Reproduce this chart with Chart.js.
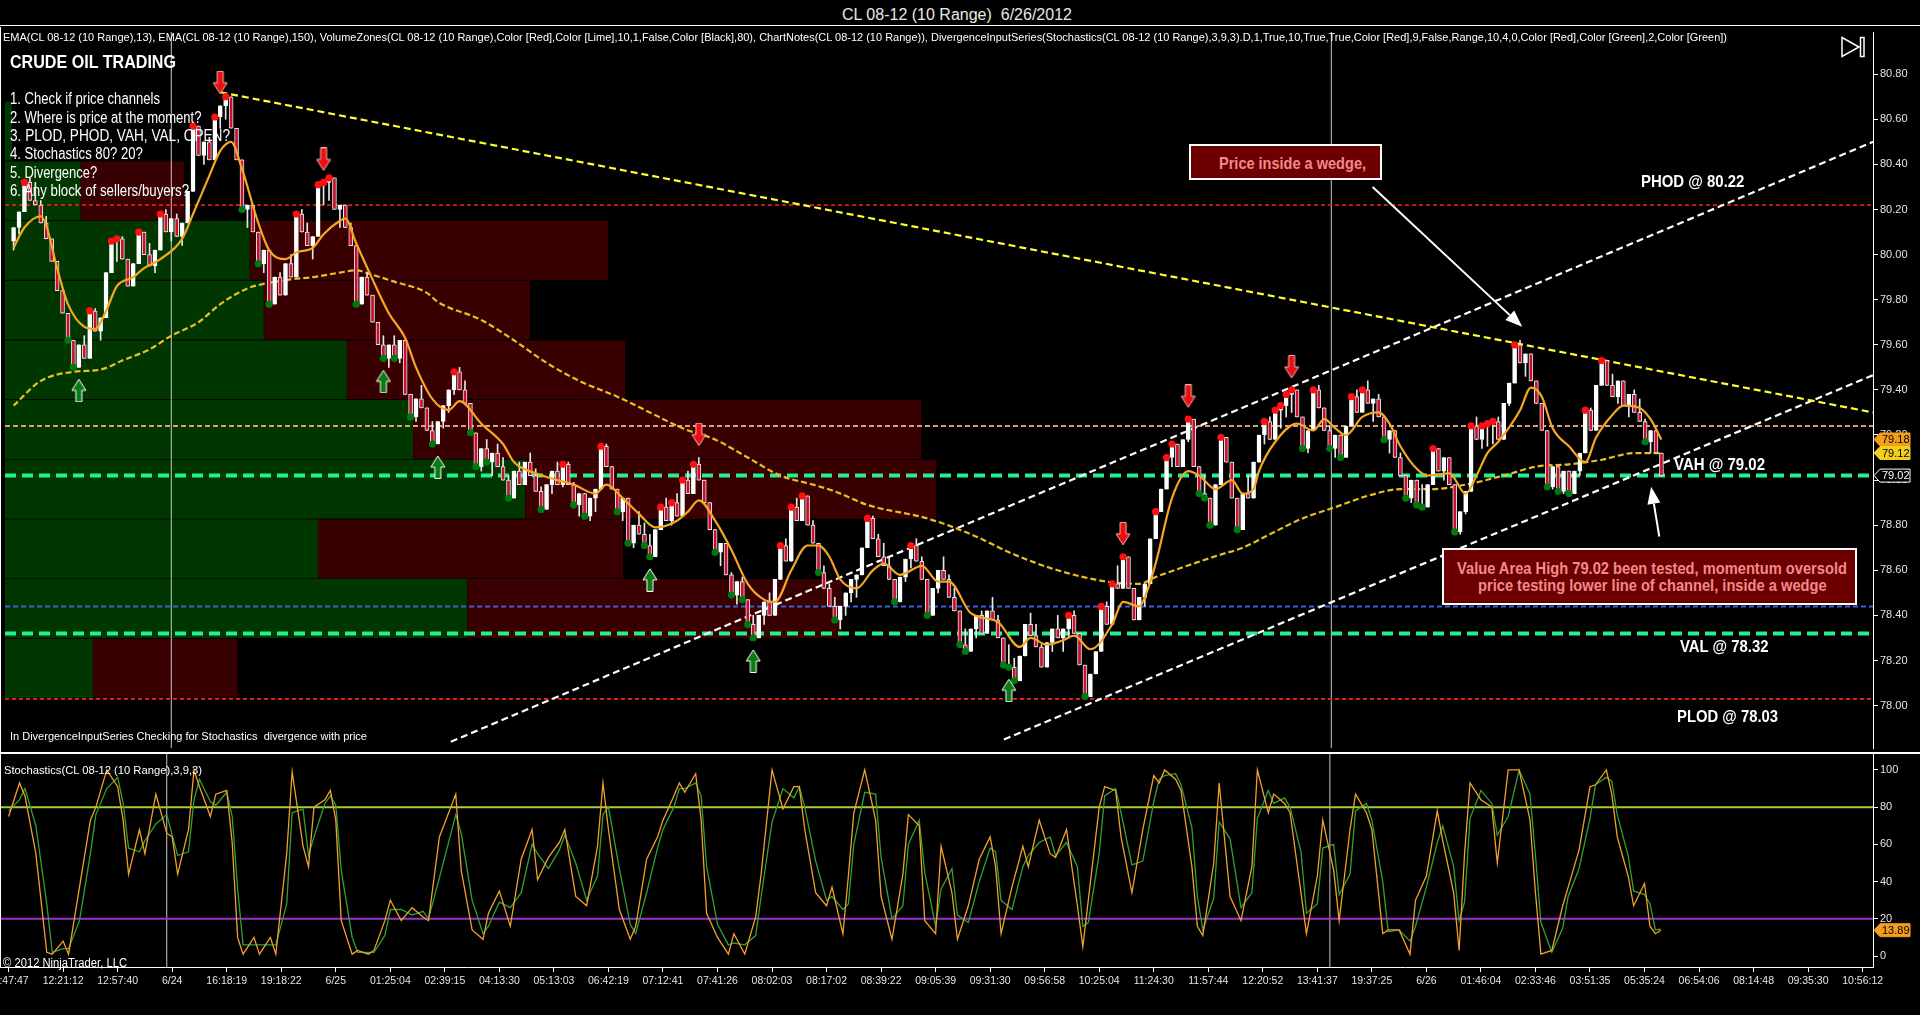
<!DOCTYPE html>
<html>
<head>
<meta charset="utf-8">
<title>CL 08-12 (10 Range) 6/26/2012</title>
<script src="https://cdn.jsdelivr.net/npm/chart.js@4.4.1/dist/chart.umd.min.js"></script>
<style>
  html, body { margin: 0; padding: 0; background: #000; }
  body { position: relative; width: 1920px; height: 1015px; overflow: hidden; font-family: 'Liberation Sans', Arial, sans-serif; color: #fff; }
  .box { position: absolute; left: 0; width: 1920px; }
  #priceBox { top: 27px; height: 726px; }
  #stochBox { top: 753px; height: 262px; }
  #topRule { position: absolute; left: 0; top: 25px; width: 1920px; height: 1px; background: #fff; }
  .t { position: absolute; display: inline-block; white-space: pre; transform-origin: 0 50%; z-index: 5; pointer-events: none; }
  .b { font-weight: bold; }
  .note { position: absolute; box-sizing: border-box; background: #6c0000; border: 2px solid #fff; z-index: 4; }
  .nt { color: #f28a8a; font-weight: bold; font-size: 16.5px; line-height: 19px; }
</style>
</head>
<body>
<div id="topRule"></div>
<div class="box" id="priceBox"><canvas id="priceChart"></canvas></div>
<div class="box" id="stochBox"><canvas id="stochChart"></canvas></div>

<span class="t" data-w="230" style="left:842px;top:5px;font-size:16px;line-height:19px;color:#e8e8e8">CL 08-12 (10 Range)  6/26/2012</span>
<span class="t" data-w="1724" style="left:3px;top:31px;font-size:11px;line-height:13px">EMA(CL 08-12 (10 Range),13), EMA(CL 08-12 (10 Range),150), VolumeZones(CL 08-12 (10 Range),Color [Red],Color [Lime],10,1,False,Color [Black],80), ChartNotes(CL 08-12 (10 Range)), DivergenceInputSeries(Stochastics(CL 08-12 (10 Range),3,9,3).D,1,True,10,True,True,Color [Red],9,False,Range,10,4,0,Color [Red],Color [Green],2,Color [Green])</span>
<span class="t b" data-w="166" style="left:9.6px;top:51.7px;font-size:18px;line-height:20px">CRUDE OIL TRADING</span>
<span class="t" data-w="150" style="left:9.6px;top:90px;font-size:16px;line-height:18px">1. Check if price channels</span>
<span class="t" data-w="191.4" style="left:9.6px;top:108.7px;font-size:16px;line-height:18px">2. Where is price at the moment?</span>
<span class="t" data-w="220" style="left:9.6px;top:127px;font-size:16px;line-height:18px">3. PLOD, PHOD, VAH, VAL, OPEN?</span>
<span class="t" data-w="132.8" style="left:9.6px;top:145.3px;font-size:16px;line-height:18px">4. Stochastics 80? 20?</span>
<span class="t" data-w="87.2" style="left:9.6px;top:163.7px;font-size:16px;line-height:18px">5. Divergence?</span>
<span class="t" data-w="179.1" style="left:9.6px;top:181.7px;font-size:16px;line-height:18px">6. Any block of sellers/buyers?</span>
<span class="t" data-w="357" style="left:9.8px;top:730.2px;font-size:11px;line-height:13px">In DivergenceInputSeries Checking for Stochastics  divergence with price</span>
<span class="t" data-w="198" style="left:3.7px;top:763.5px;font-size:11px;line-height:13px">Stochastics(CL 08-12 (10 Range),3,9,3)</span>
<span class="t" data-w="124" style="left:3px;top:956.3px;font-size:12px;line-height:14px">© 2012 NinjaTrader, LLC</span>

<span class="t b" data-w="103.4" style="left:1640.6px;top:171.8px;font-size:17px;line-height:19px">PHOD @ 80.22</span>
<span class="t b" data-w="91" style="left:1673.6px;top:454.5px;font-size:17px;line-height:19px">VAH @ 79.02</span>
<span class="t b" data-w="88.5" style="left:1680px;top:636.5px;font-size:17px;line-height:19px">VAL @ 78.32</span>
<span class="t b" data-w="101" style="left:1677px;top:706.8px;font-size:17px;line-height:19px">PLOD @ 78.03</span>

<div class="note" style="left:1189px;top:144px;width:193px;height:36px"></div>
<span class="t nt" data-w="147" style="left:1218.8px;top:154px">Price inside a wedge,</span>
<div class="note" style="left:1442px;top:548px;width:415px;height:57px"></div>
<span class="t nt" data-w="390" style="left:1457px;top:558.5px">Value Area High 79.02 been tested, momentum oversold</span>
<span class="t nt" data-w="348.6" style="left:1478.4px;top:575.9px">price testing lower line of channel, inside a wedge</span>

<script>
// ---- data ----
const timeLabels = ['11:47:47', '12:21:12', '12:57:40', '6/24', '16:18:19', '19:18:22', '6/25', '01:25:04',
  '02:39:15', '04:13:30', '05:13:03', '06:42:19', '07:12:41', '07:41:26', '08:02:03', '08:17:02', '08:39:22',
  '09:05:39', '09:31:30', '09:56:58', '10:25:04', '11:24:30', '11:57:44', '12:20:52', '13:41:37', '19:37:25',
  '6/26', '01:46:04', '02:33:46', '03:51:35', '05:35:24', '06:54:06', '08:14:48', '09:35:30', '10:56:12'];
const TICK_EVERY = 10; // bars between time labels

const priceTicks = [78.0, 78.2, 78.4, 78.6, 78.8, 79.0, 79.2, 79.4, 79.6, 79.8, 80.0, 80.2, 80.4, 80.6, 80.8];
const stochTicks = [0, 20, 40, 60, 80, 100];

// 10 range bars: close of every bar
const RANGE = 0.10;
const FIRST_OPEN = 80.06;
const closes = [
  80.12, 80.19, 80.32, 80.24, 80.22, 80.14, 80.07, 79.97, 79.84, 79.74,
  79.62, 79.50, 79.60, 79.54, 79.75, 79.66, 79.72, 79.92, 80.06, 80.07,
  79.98, 79.86, 79.96, 80.10, 80.00, 79.95, 80.02, 80.18, 80.10, 80.16,
  80.08, 80.14, 80.28, 80.57, 80.44, 80.50, 80.42, 80.61, 80.66, 80.70,
  80.56, 80.42, 80.20, 80.22, 80.10, 79.96, 80.02, 79.78, 79.90, 79.82,
  79.96, 79.90, 80.18, 80.10, 80.04, 80.08, 80.31, 80.32, 80.34, 80.20,
  80.22, 80.12, 80.04, 79.78, 79.90, 79.82, 79.70, 79.60, 79.54, 79.60,
  79.54, 79.62, 79.38, 79.28, 79.36, 79.32, 79.22, 79.16, 79.26, 79.33,
  79.40, 79.48, 79.40, 79.34, 79.21, 79.06, 79.14, 79.08, 79.12, 79.06,
  79.00, 78.92, 79.04, 78.98, 79.08, 79.02, 78.95, 78.87, 78.98, 79.04,
  78.98, 79.07, 78.98, 78.89, 78.94, 78.84, 78.92, 78.96, 79.15, 79.06,
  78.96, 78.86, 78.92, 78.72, 78.80, 78.76, 78.71, 78.66, 78.78, 78.88,
  78.82, 78.90, 78.84, 79.00, 78.94, 79.07, 79.00, 78.90, 78.78, 78.68,
  78.72, 78.58, 78.49, 78.55, 78.47, 78.36, 78.30, 78.40, 78.46, 78.40,
  78.56, 78.71, 78.64, 78.88, 78.82, 78.93, 78.80, 78.72, 78.59, 78.52,
  78.44, 78.38, 78.44, 78.50, 78.56, 78.58, 78.70, 78.83, 78.74, 78.66,
  78.62, 78.56, 78.46, 78.57, 78.65, 78.71, 78.64, 78.56, 78.40, 78.52,
  78.60, 78.56, 78.48, 78.42, 78.27, 78.24, 78.34, 78.40, 78.32, 78.42,
  78.38, 78.30, 78.18, 78.17, 78.11, 78.22, 78.36, 78.31, 78.26, 78.17,
  78.28, 78.34, 78.30, 78.34, 78.40, 78.32, 78.18, 78.04, 78.14, 78.24,
  78.44, 78.36, 78.54, 78.52, 78.66, 78.52, 78.38, 78.48, 78.54, 78.74,
  78.86, 78.96, 79.10, 79.16, 79.06, 79.18, 79.27, 79.06, 78.94, 78.92,
  78.80, 78.98, 79.19, 79.08, 78.92, 78.78, 78.94, 78.92, 79.08, 79.20,
  79.26, 79.18, 79.31, 79.33, 79.38, 79.40, 79.28, 79.14, 79.22, 79.40,
  79.32, 79.22, 79.14, 79.20, 79.10, 79.24, 79.37, 79.30, 79.40, 79.34,
  79.36, 79.28, 79.18, 79.22, 79.10, 79.02, 78.92, 79.00, 78.89, 78.88,
  78.98, 79.14, 79.04, 79.10, 78.98, 78.77, 78.86, 78.95, 79.24, 79.18,
  79.24, 79.25, 79.26, 79.18, 79.34, 79.43, 79.60, 79.52, 79.56, 79.44,
  79.34, 79.22, 78.97, 79.06, 78.95, 79.04, 78.94, 79.04, 79.12, 79.31,
  79.22, 79.42, 79.53, 79.42, 79.37, 79.44, 79.33, 79.38, 79.30, 79.26,
  79.17, 79.22, 79.12, 79.02
];

// EMA(13) and EMA(150) (bar, value)
const ema13Bars = [0, 2, 5, 6, 8, 10, 13, 15, 17, 19, 22, 24, 27, 31, 33, 36, 38, 40, 42, 45, 47, 50, 52, 55, 57,
  60, 61, 63, 66, 69, 72, 74, 77, 80, 82, 86, 90, 92, 96, 100, 103, 107, 109, 112, 115, 118, 122, 124, 126, 129,
  132, 135, 138, 140, 143, 146, 148, 150, 152, 155, 158, 160, 163, 167, 170, 172, 176, 181, 185, 187, 190, 193,
  195, 198, 202, 204, 207, 208, 210, 213, 216, 218, 221, 224, 226, 228, 229, 232, 236, 239, 241, 243, 245, 248,
  251, 253, 255, 258, 260, 264, 267, 269, 271, 273, 277, 279, 281, 283, 286, 289, 291, 294, 296, 299, 301, 303];
const ema13 = [80.03, 80.12, 80.17, 80.13, 79.94, 79.78, 79.68, 79.67, 79.75, 79.86, 79.90, 79.94, 79.98, 80.07,
  80.18, 80.35, 80.46, 80.50, 80.38, 80.14, 80.02, 79.98, 80.01, 80.03, 80.09, 80.15, 80.16, 80.05, 79.89, 79.74,
  79.63, 79.50, 79.36, 79.31, 79.35, 79.25, 79.16, 79.08, 79.03, 79.00, 78.98, 78.94, 78.98, 78.92, 78.85, 78.79,
  78.82, 78.86, 78.91, 78.82, 78.69, 78.54, 78.47, 78.46, 78.60, 78.71, 78.71, 78.66, 78.56, 78.52, 78.60, 78.63,
  78.58, 78.62, 78.55, 78.55, 78.41, 78.37, 78.26, 78.30, 78.27, 78.29, 78.31, 78.25, 78.36, 78.46, 78.44, 78.48,
  78.63, 78.92, 79.04, 79.02, 78.96, 79.00, 78.94, 78.96, 79.04, 79.17, 79.25, 79.22, 79.27, 79.23, 79.20, 79.28,
  79.30, 79.25, 79.15, 79.05, 79.02, 79.03, 78.94, 79.02, 79.12, 79.17, 79.31, 79.41, 79.37, 79.23, 79.15, 79.08,
  79.19, 79.29, 79.33, 79.32, 79.27, 79.18];
const ema150Bars = [0, 5, 11, 16, 20, 25, 29, 34, 38, 43, 46, 51, 55, 60, 63, 66, 70, 76, 78, 86, 92, 98, 104, 111,
  117, 123, 129, 135, 141, 147, 151, 157, 168, 176, 184, 192, 201, 207, 210, 217, 222, 226, 231, 237, 243, 249,
  255, 261, 267, 274, 280, 286, 292, 298, 303];
const ema150 = [79.33, 79.44, 79.48, 79.49, 79.53, 79.58, 79.64, 79.70, 79.78, 79.85, 79.87, 79.89, 79.90, 79.92,
  79.93, 79.91, 79.88, 79.83, 79.79, 79.71, 79.62, 79.52, 79.44, 79.37, 79.30, 79.23, 79.18, 79.10, 79.02, 78.98,
  78.95, 78.89, 78.83, 78.76, 78.67, 78.60, 78.55, 78.54, 78.57, 78.63, 78.67, 78.70, 78.76, 78.83, 78.88, 78.93,
  78.96, 78.96, 78.98, 79.02, 79.06, 79.07, 79.09, 79.12, 79.12];

// swing points and divergence signals (bar numbers)
const swingHighBars = [2, 14, 18, 19, 23, 27, 33, 37, 39, 52, 56, 57, 58, 81, 101, 108, 119, 121, 123, 125, 141,
  143, 145, 157, 165, 194, 200, 202, 204, 210, 212, 213, 216, 222, 230, 232, 233, 234, 235, 239, 246, 248, 261,
  268, 270, 271, 272, 276, 289, 292];
const swingLowBars = [10, 11, 42, 45, 47, 63, 68, 70, 73, 77, 84, 85, 87, 91, 97, 103, 105, 111, 113, 116, 117,
  129, 132, 134, 135, 136, 148, 151, 162, 168, 174, 175, 182, 183, 184, 197, 218, 219, 220, 225, 237, 242, 244,
  252, 256, 258, 259, 265, 282, 284, 286, 300];
const bearDivergenceBars = [38, 57, 126, 204, 216, 235];
const bullDivergenceBars = [12, 68, 78, 117, 136, 183];

// volume zones: centre price, buy and sell volume
const zonePrices = [78.167, 78.432, 78.696, 78.961, 79.226, 79.490, 79.755, 80.020, 80.284, 80.549];
const zoneBuyVolume = [940, 4950, 3350, 5570, 4370, 3660, 2770, 2620, 810, 75];
const zoneSellVolume = [1550, 4010, 3270, 4400, 5440, 2980, 2850, 3840, 1110, 0];

// horizontal levels: PHOD, open, VAH, blue, VAL, PLOD
const levelPrices = [80.22, 79.24, 79.02, 78.44, 78.32, 78.03];

// drawn lines (bar, price)
const wedgeTop = [[38, 80.72], [341.9, 79.30]];
const channelTop = [[80.4, 77.84], [341.9, 80.50]];
const channelBottom = [[182.1, 77.85], [341.9, 79.465]];
const sessionBreaks = [29, 242.3];
const noteArrows = [
  { from: [249.9, 80.30], to: [277.4, 79.68] },
  { from: [302.6, 78.75], to: [301.1, 78.97] }
];

// stochastics(3,9,3)
const stochBars = [0, 2, 3, 5, 7, 8, 10, 11, 13, 15, 16, 18, 20, 21, 22, 24, 25, 27, 29, 30, 31, 33, 34, 35, 37, 38,
  40, 41, 42, 43, 45, 46, 48, 49, 51, 52, 54, 55, 56, 58, 59, 60, 61, 63, 64, 66, 67, 69, 70, 72, 74, 76, 77, 79,
  82, 83, 85, 87, 88, 90, 92, 94, 96, 97, 99, 101, 102, 104, 106, 108, 109, 110, 112, 114, 115, 117, 119, 120,
  122, 123, 124, 126, 127, 128, 130, 132, 133, 135, 137, 138, 140, 142, 144, 145, 146, 148, 150, 151, 153, 154,
  155, 157, 159, 160, 162, 164, 165, 167, 168, 170, 171, 173, 174, 176, 178, 180, 181, 182, 184, 186, 187, 189,
  191, 192, 194, 196, 197, 198, 200, 201, 203, 204, 206, 208, 210, 211, 212, 214, 215, 217, 218, 219, 221, 222,
  224, 226, 228, 229, 231, 232, 234, 235, 237, 238, 240, 241, 243, 244, 246, 247, 249, 250, 252, 253, 255, 257,
  258, 260, 262, 263, 265, 266, 267, 268, 270, 272, 273, 275, 277, 279, 280, 281, 283, 285, 286, 288, 290, 291,
  293, 294, 295, 297, 298, 300, 301, 302, 303];
const stochK = [75, 93, 86, 55, 2, 1, 8, 1, 37, 73, 80, 100, 91, 73, 44, 68, 55, 87, 66, 64,
  44, 68, 100, 91, 75, 87, 89, 61, 10, 1, 10, 1, 10, 1, 55, 99, 59, 48, 80, 84,
  89, 73, 19, 1, 3, 1, 3, 19, 30, 19, 26, 21, 19, 64, 87, 46, 14, 9, 23, 35,
  16, 52, 68, 41, 53, 61, 68, 32, 27, 59, 93, 68, 25, 9, 16, 52, 64, 73, 86, 93,
  88, 98, 73, 23, 10, 1, 12, 1, 21, 44, 100, 79, 91, 91, 68, 34, 27, 37, 12, 43,
  77, 100, 73, 32, 9, 44, 76, 70, 19, 12, 59, 34, 9, 27, 52, 64, 48, 12, 37, 59,
  48, 73, 55, 53, 68, 27, 5, 30, 80, 91, 89, 64, 34, 68, 97, 93, 100, 95, 89, 48,
  16, 11, 50, 93, 32, 19, 48, 100, 77, 87, 82, 77, 34, 12, 43, 73, 46, 19, 68, 87,
  77, 68, 12, 14, 14, 1, 30, 43, 78, 62, 34, 3, 55, 93, 84, 80, 50, 100, 100, 73,
  34, 1, 3, 27, 37, 57, 91, 92, 100, 87, 64, 43, 27, 39, 16, 12, 13.89];
const stochD = [78, 84, 90, 70, 28, 2, 4, 4, 19, 55, 76, 90, 96, 82, 58, 56, 62, 71, 76, 65,
  54, 56, 84, 95, 83, 81, 88, 75, 36, 6, 6, 6, 6, 6, 28, 77, 79, 54, 64, 82,
  86, 81, 46, 10, 2, 2, 2, 11, 25, 25, 22, 24, 20, 42, 76, 66, 30, 12, 16, 29,
  26, 34, 60, 55, 47, 57, 65, 50, 30, 43, 76, 80, 47, 17, 12, 34, 58, 68, 80, 90,
  90, 93, 86, 48, 17, 6, 7, 6, 11, 32, 72, 90, 85, 91, 80, 51, 30, 32, 25, 28,
  60, 88, 87, 53, 20, 27, 60, 73, 45, 16, 36, 47, 22, 18, 40, 58, 56, 30, 25, 48,
  54, 61, 64, 54, 61, 48, 16, 18, 55, 86, 90, 77, 49, 51, 83, 95, 97, 98, 92, 69,
  32, 14, 31, 72, 63, 26, 34, 74, 89, 82, 85, 80, 56, 23, 28, 58, 60, 33, 44, 78,
  82, 73, 40, 13, 14, 8, 16, 37, 61, 70, 48, 19, 29, 74, 89, 82, 65, 75, 100, 87,
  54, 18, 2, 15, 32, 47, 74, 92, 96, 94, 76, 54, 35, 33, 28, 14, 14.5];
const stochLevels = [80, 20];

// ---- axis ranges ----
const X_MIN = -1.577, X_MAX = 341.9;
const PRICE_MIN = 77.812, PRICE_MAX = 80.987;
const STOCH_MIN = -5.9, STOCH_MAX = 109.1;
const VOL_AXIS_MAX = 20000;

// ---- text fitting (condensed chart font) ----
document.querySelectorAll('.t[data-w]').forEach(el => {
  const w = el.getBoundingClientRect().width;
  if (w > 0) el.style.transform = 'scaleX(' + (parseFloat(el.dataset.w) / w) + ')';
});

// ---- candles from the range-bar closes ----
const bars = closes.map((c, i) => i);
const opens = bars.map(i => i === 0 ? FIRST_OPEN : closes[i - 1]);
const isUp = bars.map(i => closes[i] >= opens[i]);
const highs = bars.map(i => isUp[i] ? closes[i] : Math.max(opens[i], closes[i] + RANGE));
const lows = bars.map(i => isUp[i] ? Math.min(opens[i], closes[i] - RANGE) : closes[i]);

const pts = (xs, ys) => xs.map((x, k) => ({ x: x, y: ys[k] }));
const seg = line => line.map(p => ({ x: p[0], y: p[1] }));
const flat = v => [{ x: X_MIN, y: v }, { x: X_MAX, y: v }];
const lineDs = (data, color, width, dash, order, extra) => Object.assign({
  type: 'line', data: data, borderColor: color, borderWidth: width, borderDash: dash || [],
  pointRadius: 0, fill: false, tension: 0, order: order
}, extra || {});

function arrowImage(fill, stroke, pointsDown) {
  const c = document.createElement('canvas');
  c.width = 16; c.height = 70;
  const g = c.getContext('2d');
  if (!pointsDown) { g.translate(0, 70); g.scale(1, -1); }
  g.beginPath();
  g.moveTo(5, 0.5); g.lineTo(11, 0.5); g.lineTo(11, 12); g.lineTo(15, 12);
  g.lineTo(8, 23); g.lineTo(1, 12); g.lineTo(5, 12); g.closePath();
  g.fillStyle = fill; g.fill();
  g.strokeStyle = stroke; g.lineWidth = 1; g.stroke();
  return c;
}

const levelStyle = [
  { color: '#ff2020', width: 1.6, dash: [4, 3] },
  { color: '#dea07a', width: 2, dash: [5, 3] },
  { color: '#25f08e', width: 4, dash: [11, 6] },
  { color: '#3f5fd8', width: 2, dash: [5, 3] },
  { color: '#25f08e', width: 4, dash: [11, 6] },
  { color: '#ff2020', width: 1.6, dash: [4, 3] }
];

function drawFlag(ctx, x0, y, text, fill, stroke, color) {
  const h = 13;
  ctx.save();
  ctx.beginPath();
  ctx.moveTo(x0, y);
  ctx.lineTo(x0 + 6, y - h / 2);
  ctx.lineTo(x0 + 36, y - h / 2);
  ctx.lineTo(x0 + 36, y + h / 2);
  ctx.lineTo(x0 + 6, y + h / 2);
  ctx.closePath();
  ctx.fillStyle = fill; ctx.fill();
  ctx.strokeStyle = stroke; ctx.lineWidth = 1; ctx.stroke();
  ctx.fillStyle = color;
  ctx.font = '11px "Liberation Sans", Arial, sans-serif';
  ctx.textBaseline = 'middle';
  ctx.fillText(text, x0 + 8, y + 0.5);
  ctx.restore();
}

function drawNoteArrow(ctx, x1, y1, x2, y2) {
  const a = Math.atan2(y2 - y1, x2 - x1), L = 17, W = 6.5;
  const bx = x2 - L * Math.cos(a), by = y2 - L * Math.sin(a);
  ctx.save();
  ctx.strokeStyle = '#fff'; ctx.fillStyle = '#fff'; ctx.lineWidth = 2;
  ctx.beginPath(); ctx.moveTo(x1, y1); ctx.lineTo(bx, by); ctx.stroke();
  ctx.beginPath();
  ctx.moveTo(x2, y2);
  ctx.lineTo(bx + W * Math.sin(a), by - W * Math.cos(a));
  ctx.lineTo(bx - W * Math.sin(a), by + W * Math.cos(a));
  ctx.closePath(); ctx.fill();
  ctx.restore();
}

const priceOverlay = {
  id: 'priceOverlay',
  afterDatasetsDraw(chart) {
    const { ctx, scales: { x, y } } = chart;
    noteArrows.forEach(n => drawNoteArrow(ctx,
      x.getPixelForValue(n.from[0]), y.getPixelForValue(n.from[1]),
      x.getPixelForValue(n.to[0]), y.getPixelForValue(n.to[1])));
  },
  afterDraw(chart) {
    const { ctx, chartArea: area, scales: { y } } = chart;
    ctx.save();
    ctx.strokeStyle = '#fff'; ctx.lineWidth = 1;
    ctx.beginPath();
    ctx.moveTo(0.5, 0); ctx.lineTo(0.5, chart.height);
    ctx.moveTo(0, chart.height - 0.5); ctx.lineTo(chart.width, chart.height - 0.5);
    ctx.stroke();
    // chart-trader button
    ctx.lineWidth = 1.5;
    ctx.beginPath();
    ctx.moveTo(1842, 10.5); ctx.lineTo(1859, 20); ctx.lineTo(1842, 29.5); ctx.closePath();
    ctx.stroke();
    ctx.strokeRect(1860.5, 10.5, 3.5, 19);
    ctx.restore();
    const xr = area.right + 1;
    drawFlag(ctx, xr, y.getPixelForValue(ema13[ema13.length - 1]), ema13[ema13.length - 1].toFixed(2), '#f39c1e', '#f39c1e', '#000');
    drawFlag(ctx, xr, y.getPixelForValue(ema150[ema150.length - 1]), ema150[ema150.length - 1].toFixed(2), '#f2cf1c', '#f2cf1c', '#000');
    const last = closes[closes.length - 1];
    drawFlag(ctx, xr, y.getPixelForValue(last), last.toFixed(2), '#000', '#fff', '#fff');
  }
};

const stochOverlay = {
  id: 'stochOverlay',
  afterDraw(chart) {
    const { ctx, chartArea: area, scales: { y } } = chart;
    ctx.save();
    ctx.strokeStyle = '#fff'; ctx.lineWidth = 1;
    ctx.beginPath();
    ctx.moveTo(0.5, 0); ctx.lineTo(0.5, area.bottom);
    ctx.moveTo(0, 0.5); ctx.lineTo(chart.width, 0.5);
    ctx.stroke();
    ctx.restore();
    const v = stochK[stochK.length - 1];
    drawFlag(ctx, area.right + 1, y.getPixelForValue(v), v.toFixed(2), '#f39c1e', '#f39c1e', '#000');
  }
};

const tickFont = { family: '"Liberation Sans", Arial, sans-serif', size: 11 };
const rightAxis = (min, max, values, fmt) => ({
  type: 'linear', position: 'right', min: min, max: max,
  afterBuildTicks: s => { s.ticks = values.map(v => ({ value: v })); },
  afterFit: s => { s.width = 47; s.paddingTop = 0; s.paddingBottom = 0; },
  ticks: { color: '#e4e4e4', font: tickFont, padding: 2, callback: fmt },
  grid: { drawOnChartArea: false, drawTicks: true, tickLength: 5, color: '#ffffff' },
  border: { display: true, color: '#ffffff', width: 1 }
});

// ---- price panel ----
const priceDatasets = [
  {
    type: 'bar', indexAxis: 'y', xAxisID: 'xv', yAxisID: 'yz', grouped: false,
    data: zonePrices.map((p, k) => ({ y: p, x: [0, zoneBuyVolume[k]] })),
    backgroundColor: '#003700', borderColor: '#000', borderSkipped: false,
    borderWidth: { top: 1, bottom: 0, left: 0, right: 0 },
    categoryPercentage: 1, barPercentage: 1, order: 30
  },
  {
    type: 'bar', indexAxis: 'y', xAxisID: 'xv', yAxisID: 'yz', grouped: false,
    data: zonePrices.map((p, k) => ({ y: p, x: [zoneBuyVolume[k], zoneBuyVolume[k] + zoneSellVolume[k]] })),
    backgroundColor: '#380000', borderColor: '#000', borderSkipped: false,
    borderWidth: { top: 1, bottom: 0, left: 0, right: 0 },
    categoryPercentage: 1, barPercentage: 1, order: 29
  }
];
sessionBreaks.forEach(b => priceDatasets.push(
  lineDs([{ x: b, y: PRICE_MIN }, { x: b, y: PRICE_MAX }], '#c8c8c8', 1, [], 28)));
levelPrices.forEach((p, k) => priceDatasets.push(
  lineDs(flat(p), levelStyle[k].color, levelStyle[k].width, levelStyle[k].dash, 20)));
priceDatasets.push(
  lineDs(seg(wedgeTop), '#ffff33', 2.2, [7, 4], 19),
  lineDs(seg(channelTop), '#ffffff', 2.2, [7, 4], 19),
  lineDs(seg(channelBottom), '#ffffff', 2.2, [7, 4], 19),
  lineDs(pts(ema150Bars, ema150), '#e8c020', 2.2, [6, 3], 15, { cubicInterpolationMode: 'monotone' }),
  {
    type: 'bar', grouped: false, barThickness: 1, order: 12,
    data: bars.map(i => ({ x: i, y: [lows[i], highs[i]] })),
    backgroundColor: '#e6e6e6', borderWidth: 0
  },
  {
    type: 'bar', grouped: false, barThickness: 4, order: 11,
    data: bars.map(i => ({ x: i, y: [opens[i], closes[i]] })),
    backgroundColor: bars.map(i => isUp[i] ? '#ffffff' : '#c8102e'),
    borderColor: bars.map(i => isUp[i] ? '#ffffff' : '#e6e6e6'),
    borderWidth: 1, borderSkipped: false
  },
  lineDs(pts(ema13Bars, ema13), '#f5a623', 2.2, [], 8, { cubicInterpolationMode: 'monotone' }),
  {
    type: 'scatter', order: 5, data: swingHighBars.map(b => ({ x: b, y: highs[b] })),
    pointRadius: 3.6, pointBackgroundColor: '#ff1010', pointBorderWidth: 0
  },
  {
    type: 'scatter', order: 5, data: swingLowBars.map(b => ({ x: b, y: lows[b] })),
    pointRadius: 3.6, pointBackgroundColor: '#007a10', pointBorderWidth: 0
  },
  {
    type: 'scatter', order: 4, data: bearDivergenceBars.map(b => ({ x: b, y: highs[b] })),
    pointStyle: arrowImage('#e81010', '#ffb0b0', true)
  },
  {
    type: 'scatter', order: 4, data: bullDivergenceBars.map(b => ({ x: b, y: lows[b] })),
    pointStyle: arrowImage('#0a7a14', '#ffffff', false)
  }
);

new Chart(document.getElementById('priceChart'), {
  type: 'bar',
  data: { datasets: priceDatasets },
  options: {
    responsive: true, maintainAspectRatio: false, animation: false, devicePixelRatio: 1, events: [],
    layout: { padding: 0 },
    plugins: { legend: { display: false }, tooltip: { enabled: false } },
    scales: {
      x: { type: 'linear', min: X_MIN, max: X_MAX, display: false, offset: false, grid: { offset: false } },
      xv: { type: 'linear', axis: 'x', min: 0, max: VOL_AXIS_MAX, display: false, offset: false, grid: { offset: false } },
      y: rightAxis(PRICE_MIN, PRICE_MAX, priceTicks, v => v.toFixed(2)),
      yz: {
        type: 'linear', axis: 'y', position: 'right', min: PRICE_MIN, max: PRICE_MAX, display: false,
        offset: false, grid: { offset: false },
        afterBuildTicks: s => { s.ticks = zonePrices.map(v => ({ value: v })); }
      }
    }
  },
  plugins: [priceOverlay]
});

// ---- stochastics panel ----
const stochDatasets = [];
sessionBreaks.forEach(b => stochDatasets.push(
  lineDs([{ x: b, y: STOCH_MIN }, { x: b, y: STOCH_MAX }], '#c8c8c8', 1, [], 10)));
stochDatasets.push(
  lineDs(flat(stochLevels[0]), '#a4cc3c', 2, [], 9),
  lineDs(flat(stochLevels[1]), '#9a34c8', 2, [], 9),
  lineDs(pts(stochBars, stochD), '#34a034', 1.3, [], 6),
  lineDs(pts(stochBars, stochK), '#f2a12a', 1.3, [], 5)
);

new Chart(document.getElementById('stochChart'), {
  type: 'line',
  data: { datasets: stochDatasets },
  options: {
    responsive: true, maintainAspectRatio: false, animation: false, devicePixelRatio: 1, events: [],
    layout: { padding: 0 },
    plugins: { legend: { display: false }, tooltip: { enabled: false } },
    scales: {
      x: {
        type: 'linear', position: 'bottom', min: X_MIN, max: X_MAX, offset: false,
        afterBuildTicks: s => { s.ticks = timeLabels.map((_, k) => ({ value: k * TICK_EVERY })); },
        afterFit: s => { s.height = 48; s.paddingLeft = 0; s.paddingRight = 0; },
        ticks: {
          autoSkip: false, maxRotation: 0, minRotation: 0, color: '#e4e4e4', padding: 3,
          font: { family: '"Liberation Sans", Arial, sans-serif', size: 10.5 },
          callback: v => timeLabels[Math.round(v / TICK_EVERY)]
        },
        grid: { drawOnChartArea: false, drawTicks: true, tickLength: 5, color: '#ffffff', offset: false },
        border: { display: true, color: '#ffffff', width: 1 }
      },
      y: rightAxis(STOCH_MIN, STOCH_MAX, stochTicks, v => String(v))
    }
  },
  plugins: [stochOverlay]
});
</script>
</body>
</html>
